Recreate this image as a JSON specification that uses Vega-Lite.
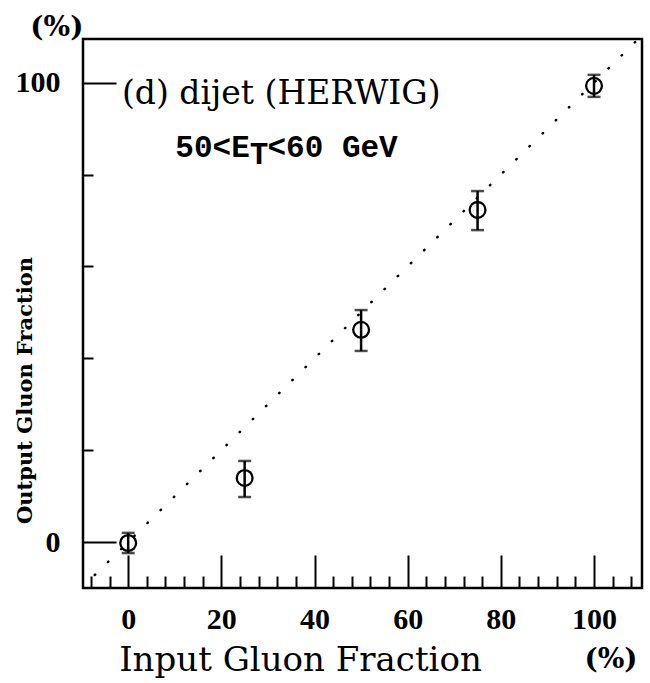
{
  "$schema": "https://vega.github.io/schema/vega-lite/v6.json",
  "width": 559,
  "height": 549,
  "autosize": {"type": "none"},
  "padding": {"left": 83, "top": 39, "right": 8, "bottom": 95},
  "background": "white",
  "config": {
    "view": {"stroke": "black", "strokeWidth": 2.5},
    "axis": {"grid": false, "domain": false, "tickColor": "black", "labelColor": "black", "titleColor": "black"}
  },
  "encoding": {
    "x": {
      "field": "x", "type": "quantitative",
      "scale": {"domain": [-9.7, 110.3], "nice": false, "zero": false},
      "axis": {
        "values": [-8, -4, 0, 4, 8, 12, 16, 20, 24, 28, 32, 36, 40, 44, 48, 52, 56, 60, 64, 68, 72, 76, 80, 84, 88, 92, 96, 100, 104, 108],
        "ticks": true, "tickWidth": 2,
        "tickSize": {"condition": {"test": "datum.value % 20 === 0", "value": -33}, "value": -12},
        "labelExpr": "datum.value % 20 === 0 ? datum.label : ''",
        "labelOverlap": false, "labelFlush": false,
        "labelFont": "Liberation Serif", "labelFontWeight": "bold", "labelFontSize": 30, "labelPadding": 49,
        "title": "Input Gluon Fraction",
        "titleFont": "DejaVu Serif", "titleFontSize": 34, "titleFontWeight": "normal",
        "titleX": 217, "titleY": 82, "titleAlign": "center", "titleBaseline": "alphabetic"
      }
    },
    "y": {
      "field": "y", "type": "quantitative",
      "scale": {"domain": [-10, 109.5], "nice": false, "zero": false},
      "axis": {
        "values": [0, 20, 40, 60, 80, 100],
        "ticks": true, "tickWidth": 2,
        "tickSize": {"condition": {"test": "datum.value % 100 === 0", "value": -33}, "value": -10},
        "labelExpr": "datum.value % 100 === 0 ? datum.label : ''",
        "labelOverlap": false, "labelFlush": false,
        "labelFont": "Liberation Serif", "labelFontWeight": "bold", "labelFontSize": 30, "labelPadding": 56,
        "title": "Output Gluon Fraction",
        "titleFont": "DejaVu Serif", "titleFontSize": 21, "titleFontWeight": "bold",
        "titleX": -58, "titleY": 351, "titleAlign": "center", "titleBaseline": "middle", "titleAngle": -90
      }
    }
  },
  "layer": [
    {
      "data": {"values": [{"x": -10, "y": -10}, {"x": 110, "y": 110}]},
      "mark": {"type": "line", "color": "black", "strokeWidth": 2.5, "strokeCap": "round", "strokeDash": [0.5, 18], "clip": true}
    },
    {
      "data": {"values": [
        {"x": 0, "y": -0.2, "lo": -2.4, "hi": 2.0},
        {"x": 25, "y": 13.95, "lo": 9.8, "hi": 17.65},
        {"x": 50, "y": 46.2, "lo": 41.6, "hi": 50.5},
        {"x": 75, "y": 72.3, "lo": 67.9, "hi": 76.4},
        {"x": 100, "y": 99.3, "lo": 96.9, "hi": 101.7}
      ]},
      "layer": [
        {
          "mark": {"type": "rule", "color": "black", "strokeWidth": 2.5},
          "encoding": {"y": {"field": "lo", "type": "quantitative"}, "y2": {"field": "hi"}}
        },
        {
          "mark": {"type": "tick", "color": "black", "orient": "horizontal", "size": 13, "thickness": 2.5},
          "encoding": {"y": {"field": "lo", "type": "quantitative"}}
        },
        {
          "mark": {"type": "tick", "color": "black", "orient": "horizontal", "size": 13, "thickness": 2.5},
          "encoding": {"y": {"field": "hi", "type": "quantitative"}}
        },
        {
          "mark": {"type": "point", "shape": "circle", "filled": false, "stroke": "black", "strokeWidth": 2.3, "size": 250, "opacity": 1}
        }
      ]
    },
    {
      "data": {"values": [{"x": -1.33, "y": 95.4, "t": "(d) dijet (HERWIG)"}]},
      "mark": {"type": "text", "font": "DejaVu Serif", "fontSize": 33, "align": "left", "baseline": "alphabetic", "color": "black"},
      "encoding": {"text": {"field": "t"}}
    },
    {
      "data": {"values": [{"x": 26.1, "y": 83.8, "t": "50<E"}]},
      "mark": {"type": "text", "font": "Liberation Mono", "fontWeight": "bold", "fontSize": 31, "align": "right", "baseline": "alphabetic", "color": "black"},
      "encoding": {"text": {"field": "t"}}
    },
    {
      "data": {"values": [{"x": 26.1, "y": 82.3, "t": "T"}]},
      "mark": {"type": "text", "font": "Liberation Mono", "fontWeight": "bold", "fontSize": 31, "align": "left", "baseline": "alphabetic", "color": "black"},
      "encoding": {"text": {"field": "t"}}
    },
    {
      "data": {"values": [{"x": 29.9, "y": 83.8, "t": "<60 GeV"}]},
      "mark": {"type": "text", "font": "Liberation Mono", "fontWeight": "bold", "fontSize": 31, "align": "left", "baseline": "alphabetic", "color": "black"},
      "encoding": {"text": {"field": "t"}}
    },
    {
      "data": {"values": [{"x": -15.3, "y": 110.2, "t": "(%)"}, {"x": 103.65, "y": -27.4, "t": "(%)"}]},
      "mark": {"type": "text", "font": "DejaVu Serif", "fontWeight": "bold", "fontSize": 28, "align": "center", "baseline": "alphabetic", "color": "black"},
      "encoding": {"text": {"field": "t"}}
    }
  ]
}
